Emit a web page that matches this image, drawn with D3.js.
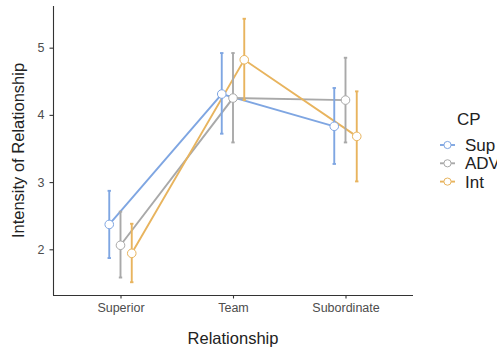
<!DOCTYPE html>
<html>
<head>
<meta charset="utf-8">
<script src="https://cdn.jsdelivr.net/npm/d3@7"></script>
<style>
  body { margin: 0; background: #fff; }
  text { font-family: "Liberation Sans", Arial, sans-serif; }
</style>
</head>
<body>
<svg id="chart" width="497" height="348"></svg>
<script>
// Data
const relationships = ['Superior', 'Team', 'Subordinate'];
const groups = ['Sup', 'ADV', 'Int'];
const groupColors = ['#7fa6e2', '#a9a9a9', '#e8b45e'];
const yTicks = [2, 3, 4, 5];

const meanSup = [2.37, 4.31, 3.83];
const lowSup = [1.87, 3.72, 3.27];
const highSup = [2.87, 4.92, 4.40];

const meanADV = [2.06, 4.25, 4.22];
const lowADV = [1.58, 3.59, 3.59];
const highADV = [2.56, 4.92, 4.85];

const meanInt = [1.94, 4.82, 3.68];
const lowInt = [1.51, 4.22, 3.01];
const highInt = [2.38, 5.43, 4.35];

const series = [
  { name: 'Sup', mean: meanSup, low: lowSup, high: highSup },
  { name: 'ADV', mean: meanADV, low: lowADV, high: highADV },
  { name: 'Int', mean: meanInt, low: lowInt, high: highInt }
];

const svg = d3.select('#chart');
const margin = { left: 53, right: 84, top: 6, bottom: 53 };
const width = 497, height = 348;

// Scales
const x = d3.scalePoint()
  .domain(relationships)
  .range([margin.left, width - margin.right])
  .padding(0.6);
const step = x.step();
const dodge = d3.scaleBand().domain(groups).range([-0.15 * step, 0.15 * step]).padding(0);
const color = d3.scaleOrdinal().domain(groups).range(groupColors);

const y = d3.scaleLinear()
  .domain([1.32, 5.62])
  .range([height - margin.bottom, margin.top]);

function xPos(g, i) {
  return x(relationships[i]) + dodge(g) + dodge.bandwidth() / 2;
}

// Axes
const xAxis = svg.append('g')
  .attr('transform', `translate(0,${height - margin.bottom})`)
  .call(d3.axisBottom(x).tickSize(3.5).tickPadding(5));
const yAxis = svg.append('g')
  .attr('transform', `translate(${margin.left},0)`)
  .call(d3.axisLeft(y).tickValues(yTicks).tickFormat(d3.format('d')).tickSize(3.5).tickPadding(5));

[xAxis, yAxis].forEach(a => {
  a.select('.domain').attr('stroke', '#333').attr('stroke-width', 1.1);
  a.selectAll('.tick line').attr('stroke', '#333').attr('stroke-width', 1.1);
  a.selectAll('.tick text').attr('fill', '#4d4d4d').style('font-size', '12.5px');
});
// extend domain lines to full panel (no outer ticks)
xAxis.select('.domain').attr('d', `M${margin.left},0.5H${width - margin.right}`);
yAxis.select('.domain').attr('d', `M0.5,${height - margin.bottom}V${margin.top}`);

// Axis titles
svg.append('text')
  .attr('x', (margin.left + width - margin.right) / 2)
  .attr('y', 344)
  .attr('text-anchor', 'middle')
  .style('font-size', '16.5px')
  .attr('fill', '#222')
  .text('Relationship');
svg.append('text')
  .attr('transform', `translate(24,${(margin.top + height - margin.bottom) / 2}) rotate(-90)`)
  .attr('text-anchor', 'middle')
  .style('font-size', '16.5px')
  .attr('fill', '#222')
  .text('Intensity of Relationship');

// Lines
const line = d3.line()
  .x(d => d.x)
  .y(d => y(d.v));

series.forEach(s => {
  const pts = s.mean.map((v, i) => ({ x: xPos(s.name, i), v }));
  svg.append('path')
    .datum(pts)
    .attr('fill', 'none')
    .attr('stroke', color(s.name))
    .attr('stroke-width', 1.9)
    .attr('d', line);
});

// Error bars
series.forEach(s => {
  const g = svg.append('g').attr('stroke', color(s.name)).attr('stroke-width', 1.9);
  s.mean.forEach((v, i) => {
    const cx = xPos(s.name, i);
    g.append('line').attr('x1', cx).attr('x2', cx)
      .attr('y1', y(s.low[i])).attr('y2', y(s.high[i]));
    [s.low[i], s.high[i]].forEach(e => {
      g.append('line').attr('x1', cx - 1.7).attr('x2', cx + 1.7)
        .attr('y1', y(e)).attr('y2', y(e));
    });
  });
});

// Points
series.forEach(s => {
  svg.append('g').selectAll('circle')
    .data(s.mean)
    .join('circle')
    .attr('cx', (d, i) => xPos(s.name, i))
    .attr('cy', d => y(d))
    .attr('r', 4.3)
    .attr('fill', '#fff')
    .attr('stroke', color(s.name))
    .attr('stroke-width', 1);
});

// Legend
const legend = svg.append('g');
legend.append('text')
  .attr('x', 457)
  .attr('y', 125)
  .style('font-size', '17px')
  .attr('fill', '#222')
  .text('CP');
groups.forEach((gname, i) => {
  const ly = 145 + i * 18.3;
  legend.append('line')
    .attr('x1', 440).attr('x2', 455).attr('y1', ly).attr('y2', ly)
    .attr('stroke', color(gname)).attr('stroke-width', 1.9);
  legend.append('circle')
    .attr('cx', 447.5).attr('cy', ly).attr('r', 3.6)
    .attr('fill', '#fff').attr('stroke', color(gname)).attr('stroke-width', 1);
  legend.append('text')
    .attr('x', 465).attr('y', ly + 6)
    .style('font-size', '17px')
    .attr('fill', '#222')
    .text(gname);
});
</script>
</body>
</html>
